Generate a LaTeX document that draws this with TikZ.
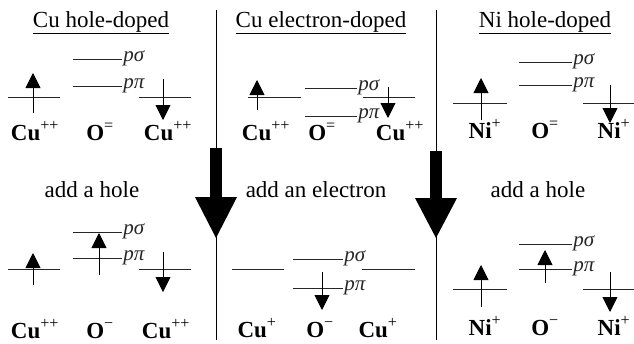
\documentclass[tikz,border=0pt]{standalone}
\usepackage{fontspec}
\setmainfont{Liberation Serif}
\usetikzlibrary{arrows.meta}

\begin{document}
\begin{tikzpicture}[
  x=1pt, y=-1pt,
  level/.style={line width=0.9pt, black!85},
  spin/.style={-{Triangle[length=15pt,width=15pt]}, line width=0.9pt},
  divider/.style={line width=1pt},
  title/.style={font=\fontsize{23}{26}\selectfont, anchor=base, inner sep=0pt},
  ion/.style={font=\fontsize{23}{26}\selectfont\bfseries, anchor=base, inner sep=0pt},
  orb/.style={font=\fontsize{21}{24}\selectfont\itshape, anchor=mid west, inner sep=1pt}
]
  \useasboundingbox (0,0) rectangle (634,343);

  \draw[divider] (216,10) -- (216,340);
  \draw[divider] (436,10) -- (436,340);
  \fill (210,148) rectangle (222,197);
  \fill (195,197) -- (237,197) -- (216,238) -- cycle;
  \fill (430,151) rectangle (442,198);
  \fill (415,198) -- (457,198) -- (436,238) -- cycle;

  \node[title] (holecu) at (101,27) {\underline{Cu hole-doped}};
  \node[title] (eleccu) at (321,27) {\underline{Cu electron-doped}};
  \node[title] (holeni) at (545,27) {\underline{Ni hole-doped}};
  \node[title] (addhole1) at (92,197) {add a hole};
  \node[title] (addelec) at (316,197) {add an electron};
  \node[title] (addhole2) at (538,197) {add a hole};

  \draw[level] (8,97) -- (60,97);
  \draw[spin] (33,113) -- (33,73);
  \draw[level] (73,59) -- (122,59) node[orb] {pσ};
  \draw[level] (73,86) -- (122,86) node[orb] {pπ};
  \draw[level] (139,97) -- (191,97);
  \draw[spin] (163,79) -- (163,120);
  \node[ion] (cua1) at (35,140) {Cu\textsuperscript{\mdseries ++}};
  \node[ion] (oa1) at (100,140) {O\textsuperscript{\mdseries =}};
  \node[ion] (cua2) at (168,140) {Cu\textsuperscript{\mdseries ++}};

  \draw[level] (8,269) -- (60,269);
  \draw[spin] (33,285) -- (33,253);
  \draw[level] (73,232) -- (122,232) node[orb] {pσ};
  \draw[level] (73,258) -- (122,258) node[orb] {pπ};
  \draw[spin] (99,275) -- (99,233);
  \draw[level] (139,269) -- (191,269);
  \draw[spin] (163,252) -- (163,292);
  \node[ion] (cub1) at (35,338) {Cu\textsuperscript{\mdseries ++}};
  \node[ion] (ob1) at (100,338) {O\textsuperscript{\mdseries −}};
  \node[ion] (cub2) at (166,338) {Cu\textsuperscript{\mdseries ++}};

  \draw[level] (248,97) -- (301,97);
  \draw[spin] (257,110) -- (257,80);
  \draw[level] (305,88) -- (357,88) node[orb] {pσ};
  \draw[level] (305,116) -- (357,116) node[orb] {pπ};
  \draw[level] (363,97) -- (415,97);
  \draw[spin] (388,87) -- (388,118);
  \node[ion] (cuc1) at (266,140) {Cu\textsuperscript{\mdseries ++}};
  \node[ion] (oc1) at (322,140) {O\textsuperscript{\mdseries =}};
  \node[ion] (cuc2) at (400,140) {Cu\textsuperscript{\mdseries ++}};

  \draw[level] (232,269) -- (284,269);
  \draw[level] (293,259) -- (343,259) node[orb] {pσ};
  \draw[level] (293,288) -- (343,288) node[orb] {pπ};
  \draw[spin] (322,272) -- (322,310);
  \draw[level] (362,269) -- (415,269);
  \node[ion] (cud1) at (257,337) {Cu\textsuperscript{\mdseries +}};
  \node[ion] (od1) at (320,337) {O\textsuperscript{\mdseries −}};
  \node[ion] (cud2) at (378,337) {Cu\textsuperscript{\mdseries +}};

  \draw[level] (453,103) -- (507,103);
  \draw[spin] (481,120) -- (481,78);
  \draw[level] (519,62) -- (572,62) node[orb] {pσ};
  \draw[level] (519,85) -- (572,85) node[orb] {pπ};
  \draw[level] (583,103) -- (634,103);
  \draw[spin] (610,85) -- (610,123);
  \node[ion] (nie1) at (485,138) {Ni\textsuperscript{\mdseries +}};
  \node[ion] (oe1) at (545,138) {O\textsuperscript{\mdseries =}};
  \node[ion] (nie2) at (614,138) {Ni\textsuperscript{\mdseries +}};

  \draw[level] (453,289) -- (507,289);
  \draw[spin] (481,307) -- (481,265);
  \draw[level] (519,244) -- (572,244) node[orb] {pσ};
  \draw[level] (519,269) -- (572,269) node[orb] {pπ};
  \draw[spin] (545,283) -- (545,250);
  \draw[level] (583,289) -- (634,289);
  \draw[spin] (610,272) -- (610,312);
  \node[ion] (nif1) at (485,335) {Ni\textsuperscript{\mdseries +}};
  \node[ion] (of1) at (545,335) {O\textsuperscript{\mdseries −}};
  \node[ion] (nif2) at (614,335) {Ni\textsuperscript{\mdseries +}};
\end{tikzpicture}
\end{document}
